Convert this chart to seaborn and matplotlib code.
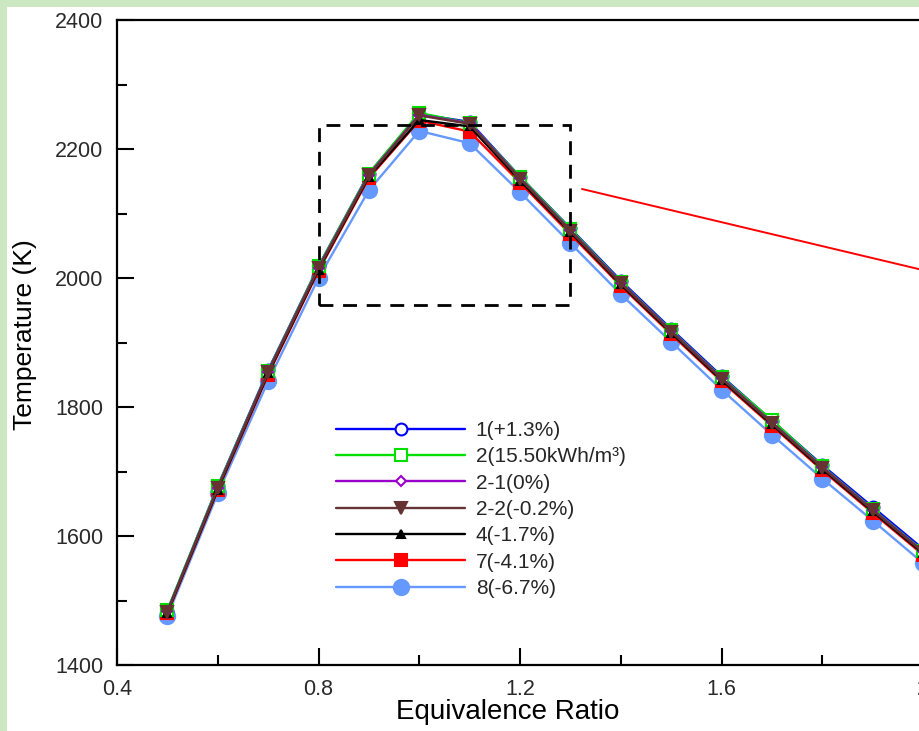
import numpy as np
import pandas as pd
import matplotlib
matplotlib.use("Agg")
import matplotlib.pyplot as plt
import seaborn as sns
from matplotlib.patches import Rectangle
from matplotlib.ticker import MultipleLocator

# Equivalence ratio (x) and flame temperature (K) for each fuel case
ratio = [0.5, 0.6, 0.7, 0.8, 0.9, 1.0, 1.1, 1.2, 1.3, 1.4, 1.5, 1.6, 1.7, 1.8, 1.9, 2.0]
temp_1 = [1484, 1677, 1857, 2018, 2162, 2254, 2242, 2157, 2077, 1996, 1921, 1848, 1779, 1710, 1645, 1580]
temp_2 = [1485, 1677, 1856, 2018, 2162, 2256, 2240, 2157, 2076, 1994, 1919, 1846, 1780, 1708, 1642, 1577]
temp_2_1 = [1483, 1675, 1855, 2016, 2160, 2253, 2240, 2155, 2074, 1993, 1918, 1845, 1776, 1707, 1641, 1576]
temp_2_2 = [1482, 1674, 1854, 2015, 2159, 2252, 2239, 2154, 2073, 1992, 1917, 1844, 1775, 1706, 1640, 1575]
temp_4 = [1481, 1672, 1852, 2013, 2157, 2245, 2235, 2151, 2071, 1990, 1915, 1842, 1773, 1704, 1638, 1573]
temp_7 = [1480, 1671, 1850, 2011, 2155, 2244, 2227, 2148, 2068, 1988, 1913, 1840, 1771, 1702, 1636, 1571]
temp_8 = [1476, 1666, 1840, 2000, 2136, 2228, 2209, 2133, 2054, 1975, 1901, 1827, 1757, 1689, 1624, 1558]

labels = ["1(+1.3%)", "2(15.50kWh/m³)", "2-1(0%)", "2-2(-0.2%)", "4(-1.7%)", "7(-4.1%)", "8(-6.7%)"]
series = [temp_1, temp_2, temp_2_1, temp_2_2, temp_4, temp_7, temp_8]

df = pd.concat(
    [pd.DataFrame({"ratio": ratio, "temp": vals, "case": lab}) for lab, vals in zip(labels, series)],
    ignore_index=True,
)

# marker styles per case: (color, marker, size, filled, zorder)
styles = {
    "1(+1.3%)": ("#0000ff", "o", 8.5, False, 4),
    "2(15.50kWh/m³)": ("#00e000", "s", 8, False, 5),
    "2-1(0%)": ("#9900cc", "D", 5, False, 6),
    "2-2(-0.2%)": ("#663333", "v", 9, True, 8),
    "4(-1.7%)": ("#000000", "^", 6, True, 7),
    "7(-4.1%)": ("#ff0000", "s", 8.5, True, 3),
    "8(-6.7%)": ("#6699ff", "o", 11, True, 2),
}

sns.set_theme(style="white")
plt.rcParams["font.family"] = ["Liberation Sans", "DejaVu Sans"]

fig = plt.figure(figsize=(9.2, 7.31), dpi=100)
fig.patch.set_facecolor("#cce8c2")
# white slide area, leaving a thin green strip on the left and top
fig.patches.append(Rectangle((7 / 920, 0), 1, 1 - 7 / 731, transform=fig.transFigure,
                             facecolor="white", edgecolor="none", zorder=-5))

ax = fig.add_axes([117 / 920, 66 / 731, 806 / 920, 645 / 731])
ax.set_facecolor("white")

for lab in labels:
    color, mk, ms, filled, z = styles[lab]
    sns.lineplot(
        data=df[df["case"] == lab], x="ratio", y="temp", ax=ax,
        color=color, marker=mk, markersize=ms, linewidth=1.7,
        markerfacecolor=color if filled else "white",
        markeredgecolor=color, markeredgewidth=1.5,
        label=lab, zorder=z, clip_on=False,
    )

# zoom box and pointer line
ax.add_patch(Rectangle((0.8, 1958), 0.5, 279, fill=False, edgecolor="black",
                       linewidth=2, linestyle=(0, (5, 3.5)), zorder=9))
ax.plot([1.323, 2.05], [2138, 2003], color="red", linewidth=1.4, zorder=9, clip_on=False)

ax.set_xlim(0.4, 2.0)
ax.set_ylim(1400, 2400)
ax.xaxis.set_minor_locator(MultipleLocator(0.2))
ax.yaxis.set_major_locator(MultipleLocator(200))
ax.yaxis.set_minor_locator(MultipleLocator(100))
ax.set_xticks([0.4, 0.8, 1.2, 1.6, 2.0])
ax.set_xticklabels(["0.4", "0.8", "1.2", "1.6", "2"])
ax.tick_params(which="both", direction="in", color="black", width=1.5,
               bottom=True, left=True, top=False, right=False)
ax.tick_params(which="major", length=12, pad=10, labelsize=15.5, labelcolor="#2a2a2a")
ax.tick_params(which="minor", length=7.5)

for side in ["left", "bottom", "top"]:
    ax.spines[side].set_color("black")
    ax.spines[side].set_linewidth(1.6)
ax.spines["right"].set_visible(False)

ax.set_xlabel("Equivalence Ratio", fontsize=20, color="black")
ax.xaxis.label.set_va("baseline")
ax.xaxis.set_label_coords(0.4845, -0.0837)
ax.set_ylabel("Temperature (K)", fontsize=19, color="black")
ax.yaxis.set_label_coords(-0.099, 0.512)

leg = ax.legend(loc="upper left", bbox_to_anchor=(0.272, 0.378), frameon=False,
                fontsize=15, handlelength=6.2, handletextpad=0.5, labelspacing=0.35,
                borderpad=0, borderaxespad=0)

fig.savefig("out.png", dpi=100, facecolor=fig.get_facecolor())
